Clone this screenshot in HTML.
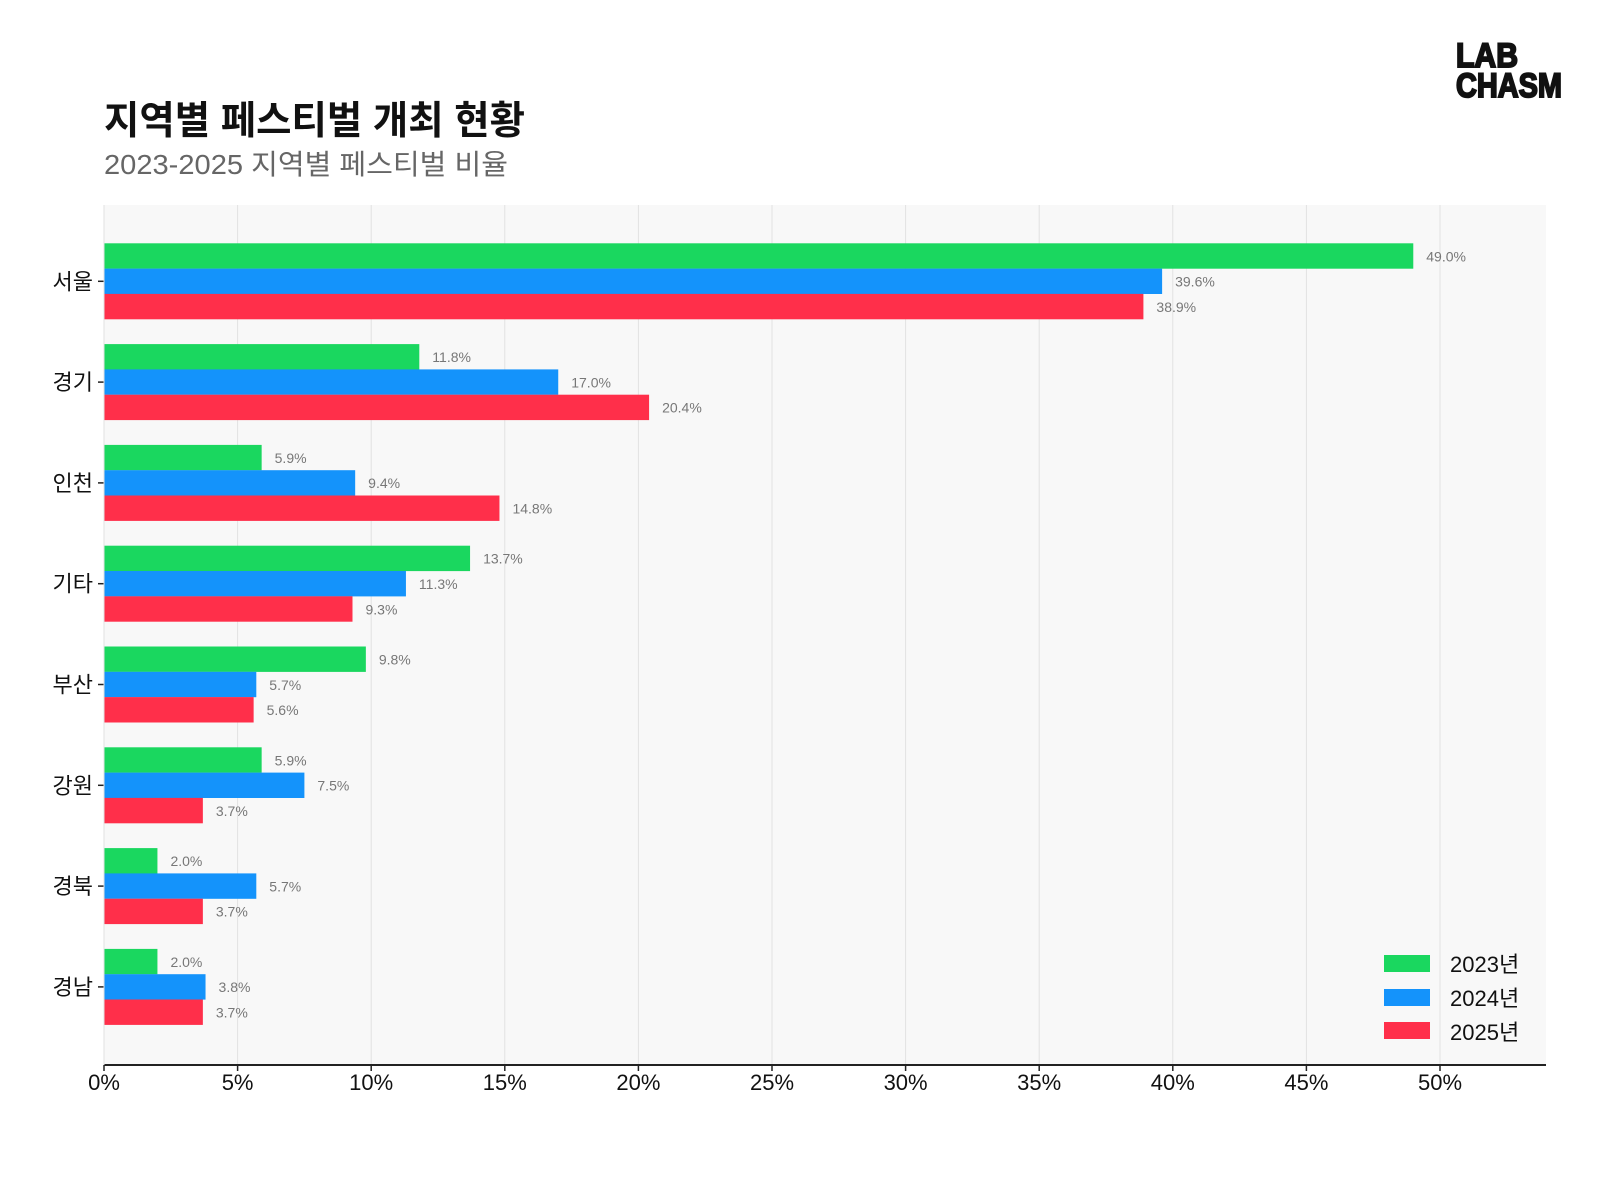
<!DOCTYPE html>
<html><head><meta charset="utf-8"><style>
html,body{margin:0;padding:0;background:#fff;}
svg{display:block;font-family:"Liberation Sans","Noto Sans CJK KR",sans-serif;}
</style></head><body>
<svg width="1600" height="1200" viewBox="0 0 1600 1200" xmlns="http://www.w3.org/2000/svg">
<rect width="1600" height="1200" fill="#fff"/>
<text x="104" y="134" font-size="39" font-weight="bold" fill="#111" textLength="421" lengthAdjust="spacingAndGlyphs">지역별 페스티벌 개최 현황</text>
<text x="104" y="174" font-size="28" fill="#666" textLength="404" lengthAdjust="spacingAndGlyphs">2023-2025 지역별 페스티벌 비율</text>
<g font-weight="900" fill="#111" stroke="#111" stroke-width="2" font-size="34">
<text x="1456" y="67" textLength="62" lengthAdjust="spacingAndGlyphs">LAB</text>
<text x="1456" y="97" textLength="106" lengthAdjust="spacingAndGlyphs">CHASM</text>
</g>
<rect x="104" y="205" width="1442" height="860" fill="#f8f8f8"/>
<g stroke="#e2e2e2" stroke-width="1">
<line x1="237.6" y1="205" x2="237.6" y2="1065"/><line x1="371.2" y1="205" x2="371.2" y2="1065"/>
<line x1="504.8" y1="205" x2="504.8" y2="1065"/><line x1="638.4" y1="205" x2="638.4" y2="1065"/>
<line x1="772" y1="205" x2="772" y2="1065"/><line x1="905.6" y1="205" x2="905.6" y2="1065"/>
<line x1="1039.2" y1="205" x2="1039.2" y2="1065"/><line x1="1172.8" y1="205" x2="1172.8" y2="1065"/>
<line x1="1306.4" y1="205" x2="1306.4" y2="1065"/><line x1="1440" y1="205" x2="1440" y2="1065"/>
</g>
<g id="bars"></g>
<line x1="104" y1="1065" x2="1546" y2="1065" stroke="#222" stroke-width="2"/>
<line x1="104" y1="205" x2="104" y2="1065" stroke="#e2e2e2" stroke-width="1"/>
<g id="ticks" font-size="22" fill="#111" text-anchor="middle"></g>
<g font-size="22" fill="#111">
<rect x="1384" y="955" width="46" height="17" fill="#1ad75f"/><text x="1450" y="972">2023년</text>
<rect x="1384" y="989" width="46" height="17" fill="#1493fb"/><text x="1450" y="1006">2024년</text>
<rect x="1384" y="1022" width="46" height="17" fill="#ff2f4a"/><text x="1450" y="1040">2025년</text>
</g>
</svg>
<script>
var cats=["서울","경기","인천","기타","부산","강원","경북","경남"];
var d=[[49.0,39.6,38.9],[11.8,17.0,20.4],[5.9,9.4,14.8],[13.7,11.3,9.3],[9.8,5.7,5.6],[5.9,7.5,3.7],[2.0,5.7,3.7],[2.0,3.8,3.7]];
var cols=["#1ad75f","#1493fb","#ff2f4a"];
var ns="http://www.w3.org/2000/svg";
var g=document.getElementById("bars");
function el(t,a,txt){var e=document.createElementNS(ns,t);for(var k in a)e.setAttribute(k,a[k]);if(txt)e.textContent=txt;return e;}
for(var i=0;i<8;i++){
 var c=281.3+i*100.8;
 g.appendChild(el("text",{x:93,y:c+8,"font-size":22,fill:"#111","text-anchor":"end"},cats[i]));
 g.appendChild(el("line",{x1:98,y1:c,x2:104,y2:c,stroke:"#222","stroke-width":1.5}));
 for(var j=0;j<3;j++){
  var y=c-38+j*25.3,w=d[i][j]*26.72;
  g.appendChild(el("rect",{x:104,y:y,width:w,height:25.4,fill:cols[j]}));
  g.appendChild(el("text",{x:104+w+13,y:y+18,"font-size":14,fill:"#777"},d[i][j].toFixed(1)+"%"));
 }
}
var t=document.getElementById("ticks");
for(var k=0;k<=10;k++){var x=104+k*133.6;
 t.appendChild(el("line",{x1:x,y1:1065,x2:x,y2:1071,stroke:"#222","stroke-width":1.5}));
 t.appendChild(el("text",{x:x,y:1090},(k*5)+"%"));}
</script>
</body></html>
